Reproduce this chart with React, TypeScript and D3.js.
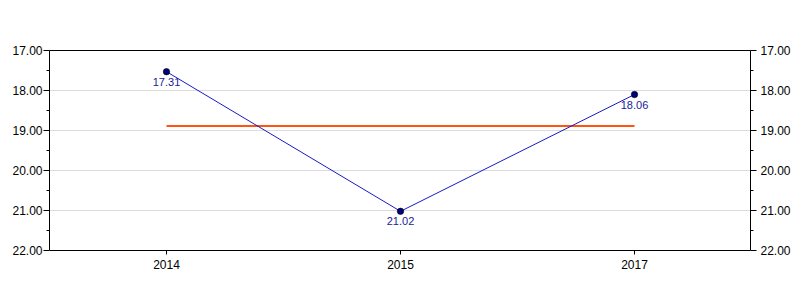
import React from "react";
import * as d3 from "d3";

const categories = ["2014", "2015", "2017"];
const values = [17.53, 21.02, 18.1];
const valueLabels = ["17.31", "21.02", "18.06"];
const averageValue = 18.89;
const yTicks = [17, 18, 19, 20, 21, 22];
const yMinorTicks = [17.5, 18.5, 19.5, 20.5, 21.5];

export default function App() {
  const W = 800, H = 300;
  const left = 49.5, right = 750.5, top = 50.5, bottom = 250.5;
  const x = d3.scaleBand().domain(categories).range([left, right]);
  const y = d3.scaleLinear().domain([17, 22]).range([top, bottom]);
  const cx = (c: string) => Math.round((x(c) ?? 0) + x.bandwidth() / 2) + 0.5;
  const line = d3.line<number>().x((_, i) => cx(categories[i])).y((d) => y(d));
  const font = "'Liberation Sans', Arial, sans-serif";
  return (
    <svg width={W} height={H} style={{ position: "absolute", left: 0, top: 0, background: "#fff" }} fontFamily={font}>
      {yTicks.slice(1, -1).map((t) => (
        <line key={"g" + t} x1={left} x2={right} y1={y(t)} y2={y(t)} stroke="#dcdcdc" strokeWidth={1} />
      ))}
      <line x1={left} x2={right} y1={top} y2={top} stroke="#000" />
      <line x1={left} x2={right} y1={bottom} y2={bottom} stroke="#000" />
      <line x1={left} x2={left} y1={top} y2={bottom} stroke="#000" />
      <line x1={right} x2={right} y1={top} y2={bottom} stroke="#000" />
      {yTicks.map((t) => (
        <g key={"t" + t}>
          <line x1={left - 6} x2={left} y1={y(t)} y2={y(t)} stroke="#000" />
          <line x1={right} x2={right + 6} y1={y(t)} y2={y(t)} stroke="#000" />
          <text x={left - 7} y={y(t)} dy="0.35em" textAnchor="end" fontSize={12} fill="#000">{t.toFixed(2)}</text>
          <text x={right + 10} y={y(t)} dy="0.35em" textAnchor="start" fontSize={12} fill="#000">{t.toFixed(2)}</text>
        </g>
      ))}
      {yMinorTicks.map((t) => (
        <g key={"m" + t}>
          <line x1={left - 3} x2={left} y1={y(t)} y2={y(t)} stroke="#000" />
          <line x1={right} x2={right + 3} y1={y(t)} y2={y(t)} stroke="#000" />
        </g>
      ))}
      {categories.map((c) => (
        <g key={"x" + c}>
          <line x1={cx(c)} x2={cx(c)} y1={bottom} y2={bottom + 4} stroke="#000" />
          <text x={cx(c)} y={bottom + 18} textAnchor="middle" fontSize={12} fill="#000">{c}</text>
        </g>
      ))}
      <line x1={cx(categories[0])} x2={cx(categories[categories.length - 1])} y1={y(averageValue)} y2={y(averageValue)} stroke="#ff5511" strokeWidth={2} />
      <path d={line(values) ?? ""} fill="none" stroke="#1a1acc" strokeWidth={1} />
      {values.map((v, i) => (
        <g key={"p" + i}>
          <circle cx={cx(categories[i])} cy={y(v)} r={3.2} fill="#000080" stroke="#000" strokeWidth={0.6} />
          <text x={cx(categories[i])} y={y(v) + 14} textAnchor="middle" fontSize={11} fill="#1a1a9a">{valueLabels[i]}</text>
        </g>
      ))}
    </svg>
  );
}
